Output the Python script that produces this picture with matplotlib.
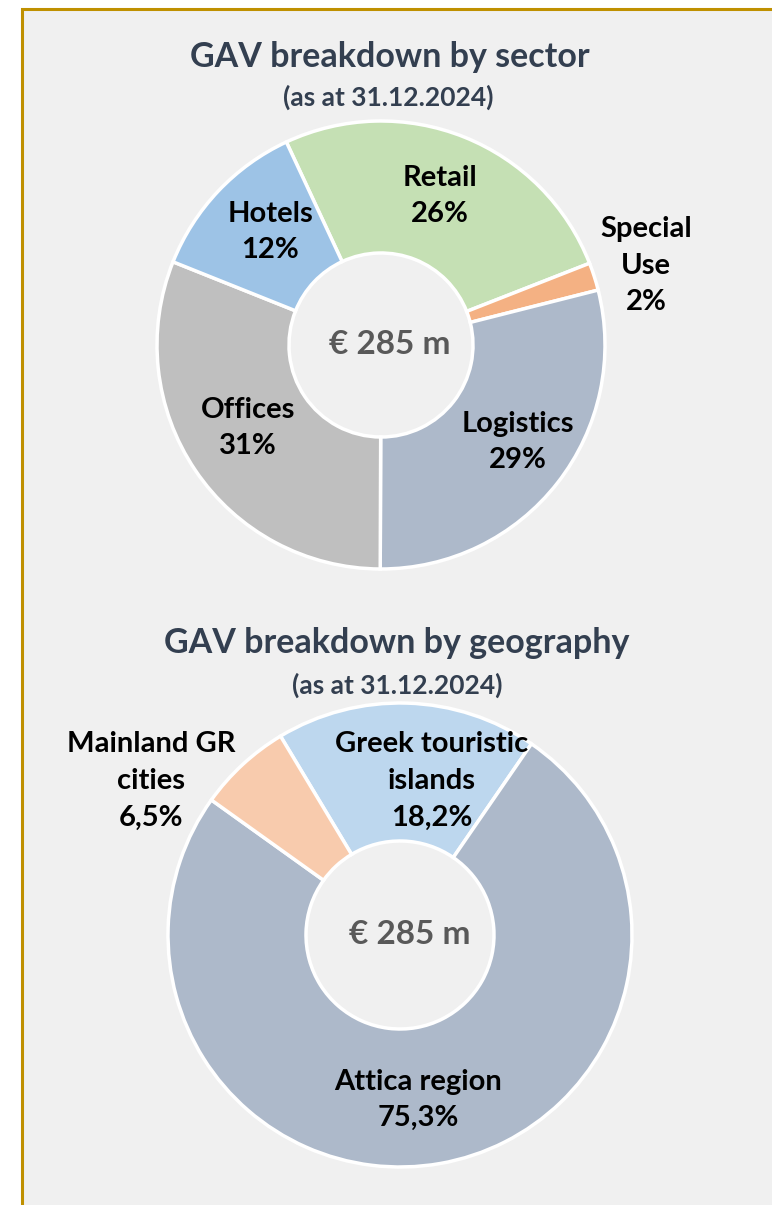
import matplotlib.pyplot as plt
from matplotlib.patches import Rectangle

plt.rcParams['font.family'] = ['Lato', 'DejaVu Sans']

# sector breakdown (clockwise from Retail)
sector_labels = ['Retail', 'Special\nUse', 'Logistics', 'Offices', 'Hotels']
sector_values = [26, 2, 29, 31, 12]
sector_colors = ['#c5e0b4', '#f4b183', '#adb9ca', '#bfbfbf', '#9dc3e6']

# geography breakdown (clockwise from Greek touristic islands)
geo_labels = ['Greek touristic\nislands', 'Attica region', 'Mainland GR\ncities']
geo_values = [18.2, 75.3, 6.5]
geo_colors = ['#bdd7ee', '#adb9ca', '#f8cbad']

total_text = '€ 285 m'
date_text = '(as at 31.12.2024)'

W, H = 772, 1205
fig = plt.figure(figsize=(W / 100, H / 100), dpi=100, facecolor='white')
ax = fig.add_axes([0, 0, 1, 1])
ax.set_xlim(0, W)
ax.set_ylim(0, H)
ax.set_aspect('equal')
ax.axis('off')


def Y(y):
    # image pixel row -> data y
    return H - y


ax.add_patch(Rectangle((22, -10), W, Y(9) + 10, facecolor='#f0f0f0',
                       edgecolor='#bf9000', linewidth=2.2, zorder=0))

navy = '#333f50'
txt = dict(ha='center', va='center', fontweight='bold', color='black',
           fontsize=21, linespacing=1.5)

# ---- top donut
c1 = (381, Y(345))
ax.pie(sector_values, colors=sector_colors, startangle=115, counterclock=False,
       center=c1, radius=224, frame=True,
       wedgeprops=dict(width=132, edgecolor='white', linewidth=2.5))
ax.text(390, Y(57), 'GAV breakdown by sector', ha='center', va='center',
        fontsize=24.5, fontweight='bold', color=navy)
ax.text(388, Y(97), date_text, ha='center', va='center',
        fontsize=19, fontweight='bold', color=navy)
ax.text(390, Y(345), total_text, ha='center', va='center',
        fontsize=24, fontweight='bold', color='#595959')

pos1 = [(440, 196), (646, 266), (518, 442), (248, 428), (270, 232)]
for lab, v, (x, y) in zip(sector_labels, sector_values, pos1):
    ax.text(x, Y(y), f'{lab}\n{v}%', **txt)

# ---- bottom donut
c2 = (400, Y(935))
ax.pie(geo_values, colors=geo_colors, startangle=121, counterclock=False,
       center=c2, radius=232, frame=True,
       wedgeprops=dict(width=138, edgecolor='white', linewidth=2.5))
ax.text(397, Y(643), 'GAV breakdown by geography', ha='center', va='center',
        fontsize=24.5, fontweight='bold', color=navy)
ax.text(397, Y(685), date_text, ha='center', va='center',
        fontsize=19, fontweight='bold', color=navy)
ax.text(410, Y(935), total_text, ha='center', va='center',
        fontsize=24, fontweight='bold', color='#595959')

pos2 = [(432, 781), (418, 1100), (151, 781)]
for lab, v, (x, y) in zip(geo_labels, geo_values, pos2):
    ax.text(x, Y(y), f'{lab}\n{v:.1f}%'.replace('.', ','), **txt)

ax.set_xlim(0, W)
ax.set_ylim(0, H)
ax.axis('off')
fig.savefig('out.png', dpi=100, facecolor='white')
